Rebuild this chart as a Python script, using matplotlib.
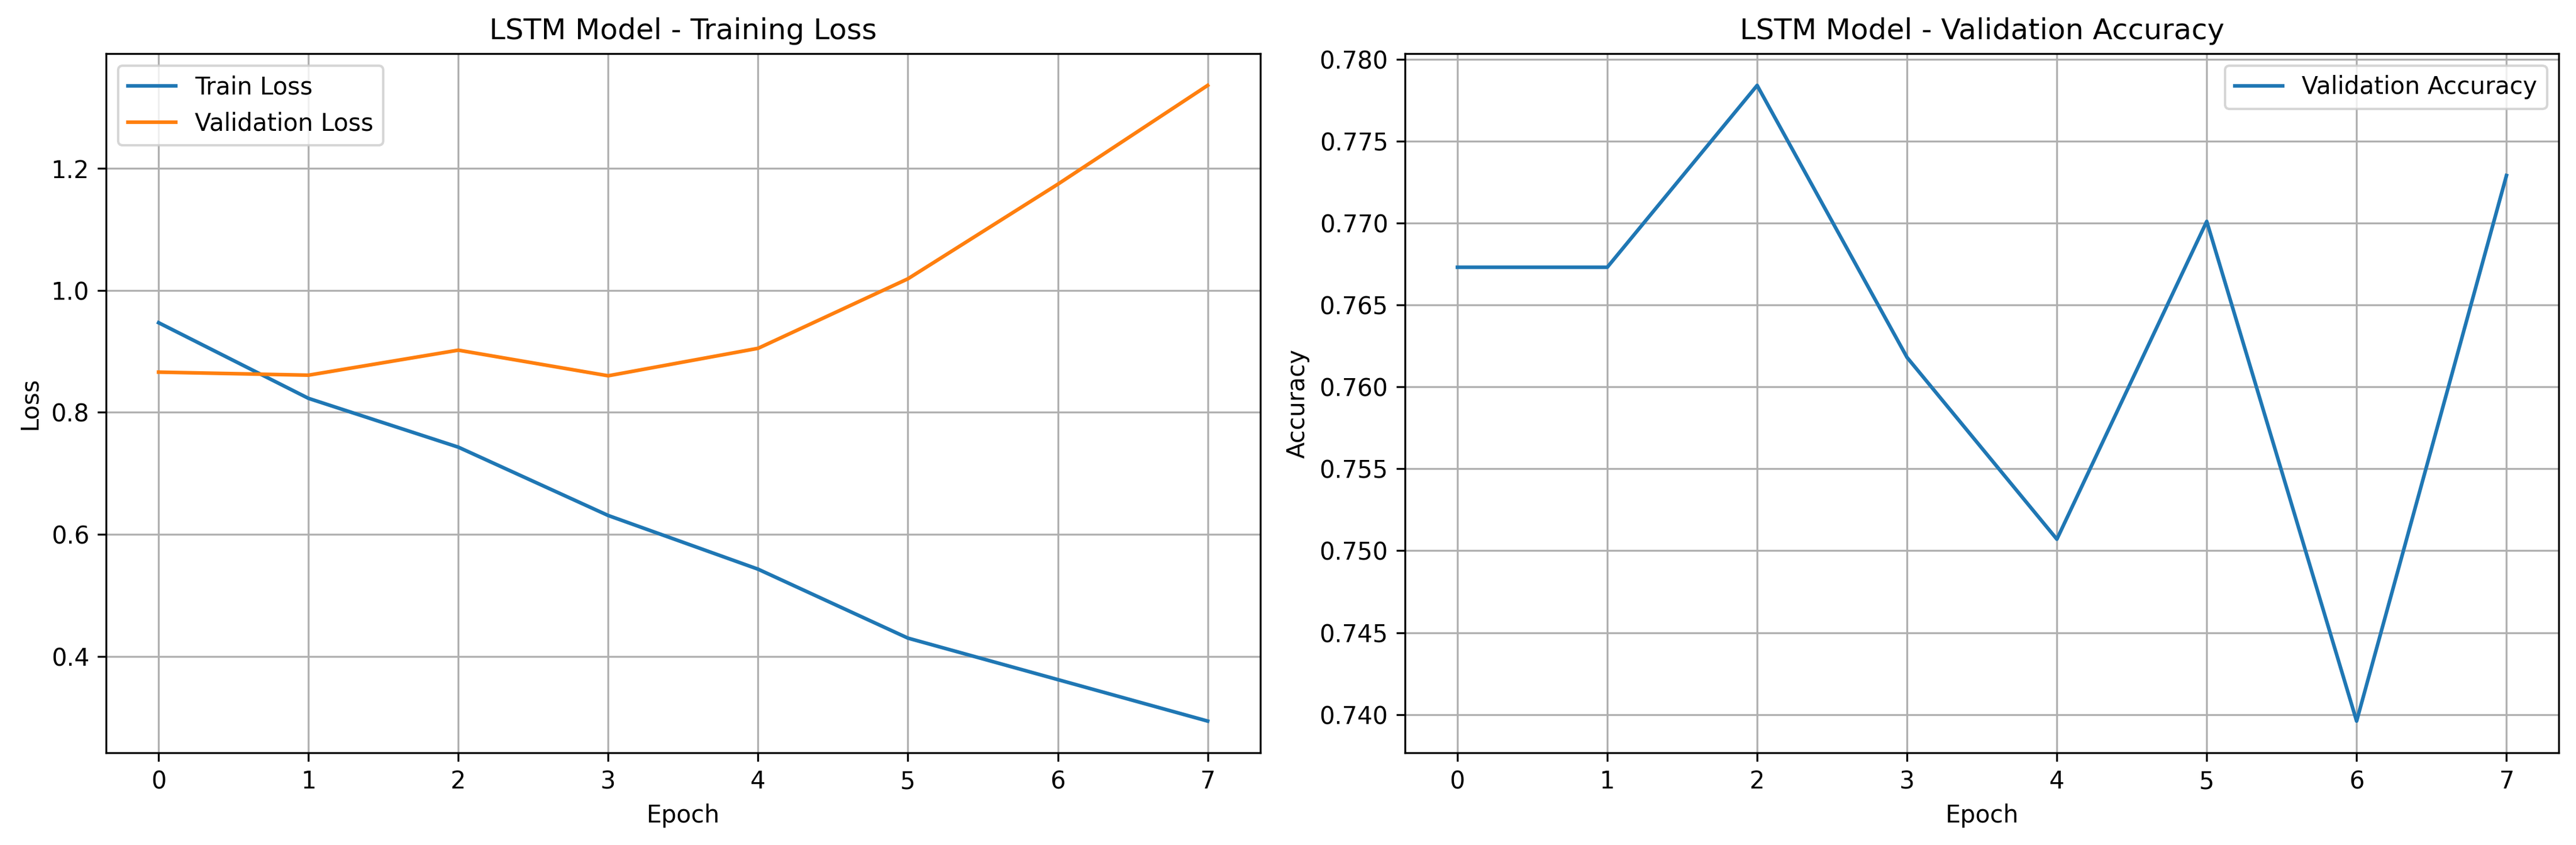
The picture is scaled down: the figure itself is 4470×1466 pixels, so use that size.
import numpy as np
import matplotlib
matplotlib.use('Agg')
import matplotlib.pyplot as plt

# Values
epochs = [0, 1, 2, 3, 4, 5, 6, 7]
train_loss = [0.947, 0.823, 0.743, 0.631, 0.543, 0.430, 0.362, 0.294]
val_loss = [0.866, 0.861, 0.902, 0.860, 0.905, 1.019, 1.174, 1.336]
val_acc = [0.7673, 0.7673, 0.7784, 0.7618, 0.7507, 0.7701, 0.7396, 0.7729]

fig = plt.figure(figsize=(15, 5))

# Loss
ax = fig.add_subplot(121)
ax.plot(epochs, train_loss, label='Train Loss')
ax.plot(epochs, val_loss, label='Validation Loss')
ax.set_title('LSTM Model - Training Loss')
ax.set_xlabel('Epoch')
ax.set_ylabel('Loss')
ax.legend()
ax.grid(True)

# Accuracy
ax = fig.add_subplot(122)
ax.plot(epochs, val_acc, label='Validation Accuracy')
ax.set_title('LSTM Model - Validation Accuracy')
ax.set_xlabel('Epoch')
ax.set_ylabel('Accuracy')
ax.legend()
ax.grid(True)

plt.tight_layout()
plt.savefig('out.png', dpi=300, bbox_inches='tight')
